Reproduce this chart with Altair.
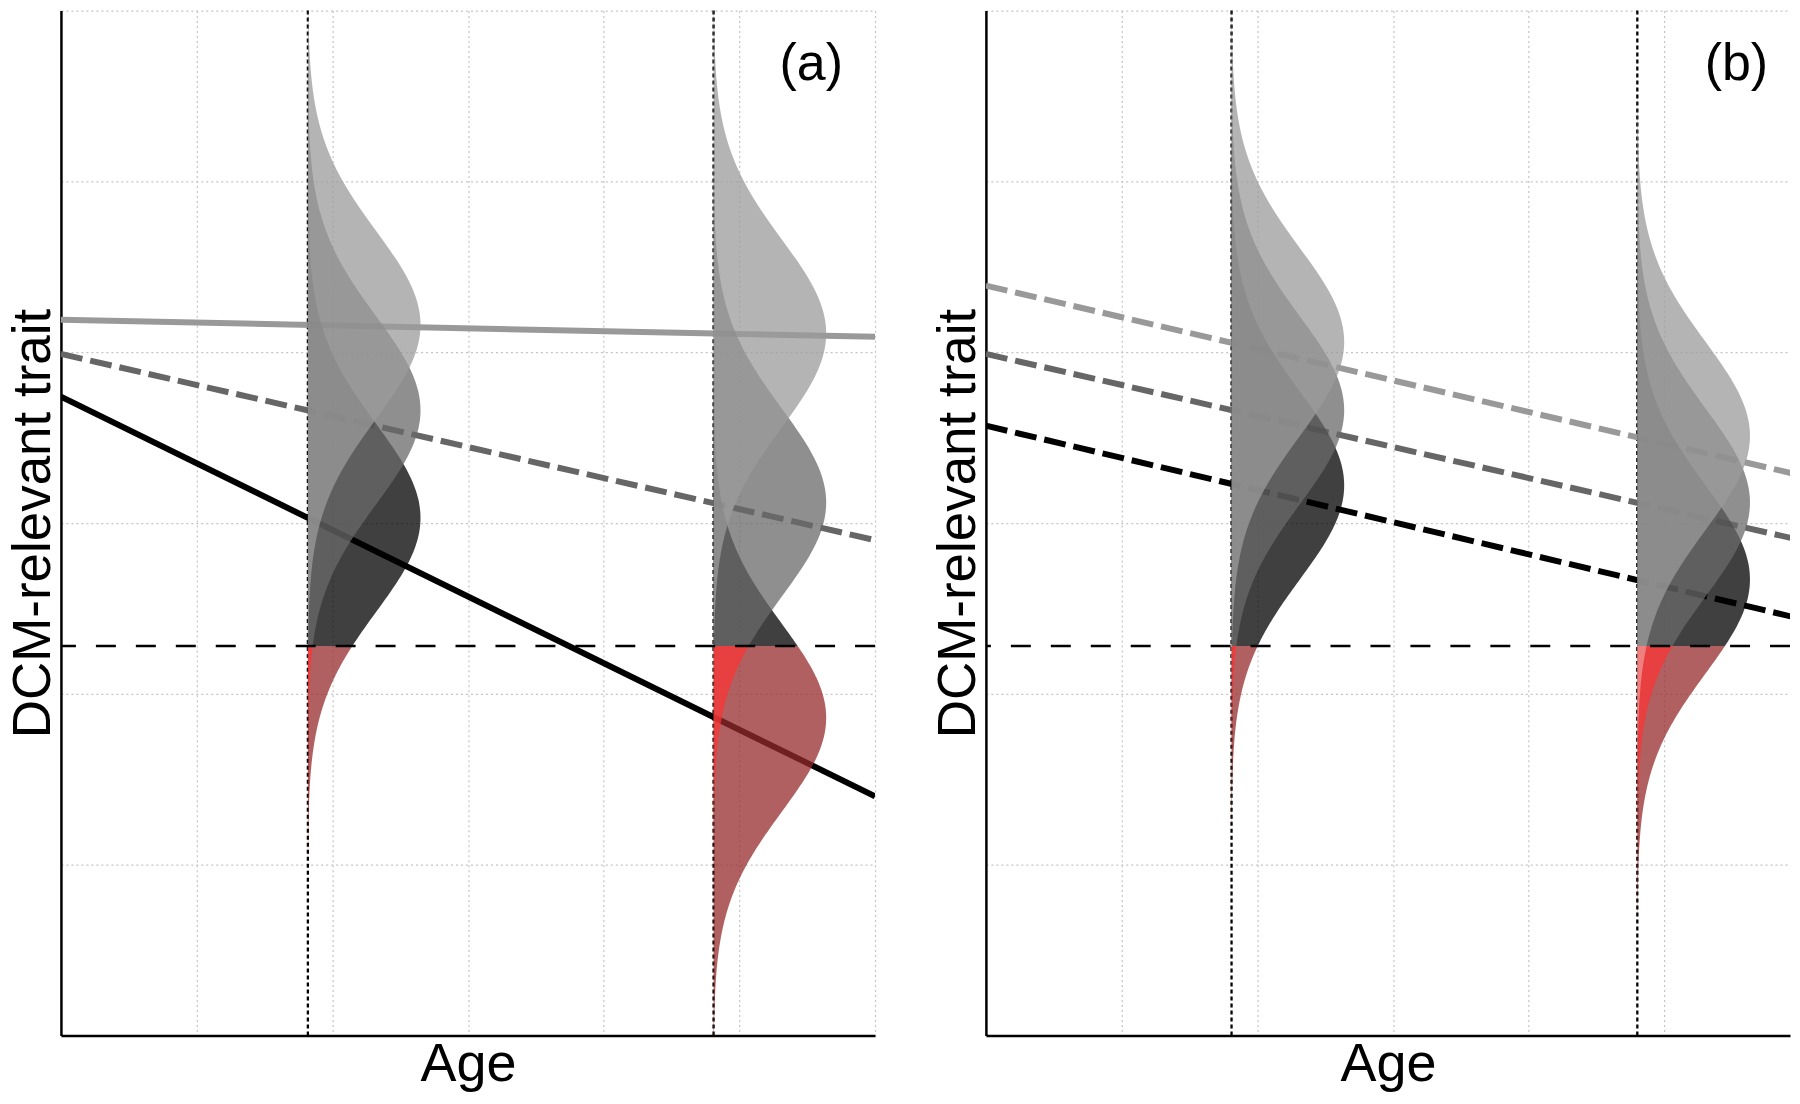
import numpy as np
import pandas as pd
import altair as alt

# ---------------- values ----------------
THRESHOLD = 2.28
AGES_A = [1.82, 4.81]
AGES_B = [1.81, 4.80]
XMAX_A = 6.0
XMAX_B = 5.925
GROUPS = ["light", "mid", "dark"]

# trend lines: value at age 0 and age 6
LINE_X = [0, 6]
A_LIGHT_LINE = [4.19, 4.09]
A_MID_LINE = [3.99, 2.90]
A_DARK_LINE = [3.74, 1.40]
B_LIGHT_LINE = [4.39, 3.28]
B_MID_LINE = [3.99, 2.90]
B_DARK_LINE = [3.57, 2.44]

# density centres (light, mid, dark) at each age
A_AGE1_MEANS = [4.16, 3.66, 3.03]
A_AGE2_MEANS = [4.11, 3.12, 1.86]
B_AGE1_MEANS = [4.06, 3.66, 3.22]
B_AGE2_MEANS = [3.51, 3.12, 2.67]
SD = 0.55
MAX_WIDTH = 0.83

LINE_COLORS = {"light": "#999999", "mid": "#666666", "dark": "#000000"}
GRAY_FILL = {"light": "#9b9b9b", "mid": "#6a6a6a", "dark": "#000000"}
RED_FILL = {"light": "#f29595", "mid": "#fb3535", "dark": "#962b2b"}

FONT = "Liberation Sans"
W_A = 815
W_B = 805
H = 1026


def density_frame(ages, means_list):
    rows = []
    for age, means in zip(ages, means_list):
        for g, mu in zip(GROUPS, means):
            lo = max(0.0, mu - 3.6 * SD)
            hi = min(6.0, mu + 3.6 * SD)
            for part, a, b in [("above", max(lo, THRESHOLD), hi), ("below", lo, min(hi, THRESHOLD))]:
                if b <= a:
                    continue
                for y in np.linspace(a, b, 160):
                    w = MAX_WIDTH * np.exp(-0.5 * ((y - mu) / SD) ** 2)
                    rows.append({
                        "group": g, "key": f"{age}-{g}-{part}", "trait": y,
                        "age": age, "age2": age + w,
                        "fill": GRAY_FILL[g] if part == "above" else RED_FILL[g],
                    })
    return pd.DataFrame(rows)


def panel(label, ages, xmax, width, lines, dashed, means_list):
    xs = alt.Scale(domain=[0, xmax], nice=False, zero=False)
    ys = alt.Scale(domain=[0, 6], nice=False, zero=False)
    xaxis = alt.Axis(title="Age", values=[1, 2, 3, 4, 5, 6], titlePadding=2, titleFontSize=54)
    yaxis = alt.Axis(title="DCM-relevant trait", values=[1, 2, 3, 4, 5, 6], titlePadding=0, titleFontSize=53)

    def X(f):
        return alt.X(f, type="quantitative", scale=xs, axis=xaxis)

    def Y(f):
        return alt.Y(f, type="quantitative", scale=ys, axis=yaxis)

    layers = []
    vdf = pd.DataFrame({"age": ages})
    layers.append(alt.Chart(vdf).mark_rule(color="black", strokeWidth=2.3, strokeDash=[4, 3]).encode(x=X("age")))

    for g, vals in zip(GROUPS, lines):
        ldf = pd.DataFrame({"age": LINE_X, "trait": vals})
        kw = dict(color=LINE_COLORS[g], strokeWidth=6, clip=True)
        if dashed[g]:
            kw["strokeDash"] = [22, 8]
        layers.append(alt.Chart(ldf).mark_line(**kw).encode(x=X("age"), y=Y("trait")))

    ddf = density_frame(ages, means_list)
    for g in ["dark", "mid", "light"]:
        sub = ddf[ddf.group == g]
        layers.append(
            alt.Chart(sub).mark_area(orient="horizontal", opacity=0.75).encode(
                y=Y("trait"), x=X("age"), x2=alt.X2("age2"),
                color=alt.Color("fill:N", scale=None), detail="key:N",
            )
        )

    tdf = pd.DataFrame({"trait": [THRESHOLD]})
    layers.append(alt.Chart(tdf).mark_rule(color="black", strokeWidth=2.5, strokeDash=[20, 20]).encode(y=Y("trait")))

    lab = pd.DataFrame({"age": [5.53], "trait": [5.69], "t": [label]})
    layers.append(alt.Chart(lab).mark_text(font=FONT, fontSize=52, color="black", align="center", baseline="middle").encode(
        x=X("age"), y=Y("trait"), text="t:N"))

    return alt.layer(*layers).properties(width=width, height=H)


pa = panel("(a)", AGES_A, XMAX_A, W_A,
           [A_LIGHT_LINE, A_MID_LINE, A_DARK_LINE],
           {"light": False, "mid": True, "dark": False},
           [A_AGE1_MEANS, A_AGE2_MEANS])
pb = panel("(b)", AGES_B, XMAX_B, W_B,
           [B_LIGHT_LINE, B_MID_LINE, B_DARK_LINE],
           {"light": True, "mid": True, "dark": True},
           [B_AGE1_MEANS, B_AGE2_MEANS])

chart = alt.hconcat(pa, pb, spacing=56).properties(
    padding={"left": 0, "top": 0, "right": 0, "bottom": 0},
    background="white",
).configure_view(stroke=None).configure_axis(
    domainColor="black", domainWidth=2.5, ticks=False, labels=False,
    grid=True, gridColor="#c4c4c4", gridDash=[2, 3], gridWidth=1.2,
    titleFont=FONT, titleFontSize=52, titleFontWeight="normal", titleColor="black",
)

chart.save("out.html", embed_options={"renderer": "svg", "actions": False})
